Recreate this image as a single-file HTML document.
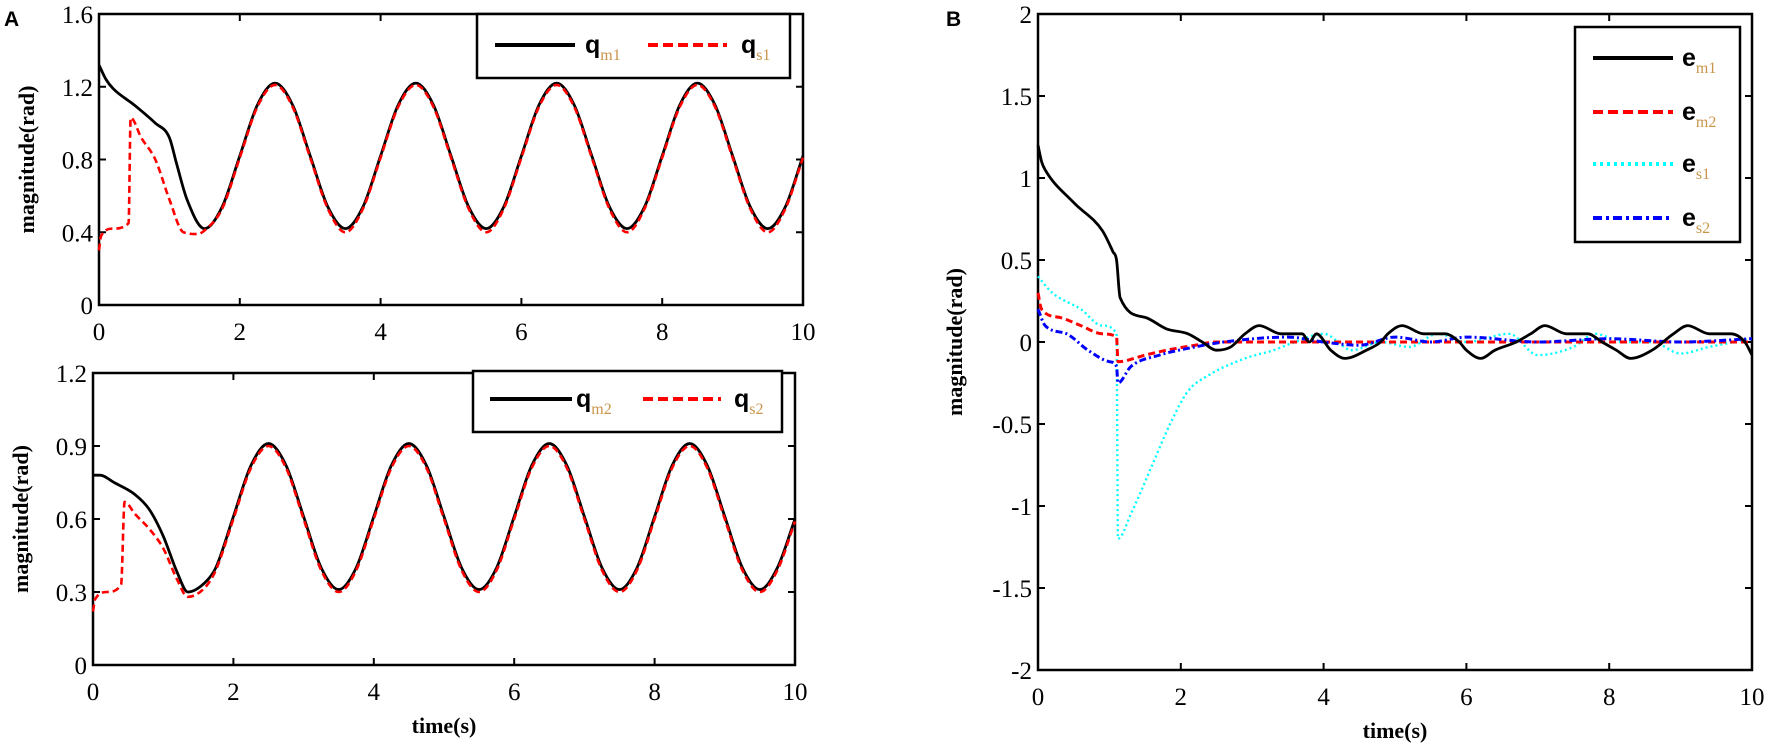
<!DOCTYPE html>
<html><head><meta charset="utf-8">
<style>
html,body{margin:0;padding:0;background:#fff;}
svg{display:block;}
text{font-family:"Liberation Serif",serif;fill:#000;}
.tick{font-size:25px;}
.lbl{font-size:22px;font-weight:bold;}
</style></head>
<body>
<svg id="fig" width="1772" height="755" viewBox="0 0 1772 755" xmlns="http://www.w3.org/2000/svg">
<text x="4" y="26" style="font-family:'Liberation Sans',sans-serif;font-weight:bold;font-size:21px">A</text>
<text x="946" y="26" style="font-family:'Liberation Sans',sans-serif;font-weight:bold;font-size:21px">B</text>
</svg>
<script>
// ---------- DATA ----------
const ticksX = [0,2,4,6,8,10];
const ticksA1 = [0,0.4,0.8,1.2,1.6];
const ticksA1Labels = ["0","0.4","0.8","1.2","1.6"];
const ticksA2 = [0,0.3,0.6,0.9,1.2];
const ticksA2Labels = ["0","0.3","0.6","0.9","1.2"];
const ticksB = [-2,-1.5,-1,-0.5,0,0.5,1,1.5,2];
const ticksBLabels = ["-2","-1.5","-1","-0.5","0","0.5","1","1.5","2"];

const qm1T = [0,0.1,0.2,0.5,0.8,1.0,1.1,1.25,1.5,1.75,2,2.25,2.5,2.75,3,3.25,3.5,3.75,4,4.25,4.5,4.75,5,5.25,5.5,5.75,6,6.25,6.5,6.75,7,7.25,7.5,7.75,8,8.25,8.5,8.75,9,9.25,9.5,9.75,10];
const qm1V = [1.32,1.24,1.19,1.1,1.0,0.92,0.78,0.58,0.42,0.54,0.82,1.10,1.22,1.10,0.82,0.54,0.42,0.54,0.82,1.10,1.22,1.10,0.82,0.54,0.42,0.54,0.82,1.10,1.22,1.10,0.82,0.54,0.42,0.54,0.82,1.10,1.22,1.10,0.82,0.54,0.42,0.54,0.82];
const qs1T = [0,0.03,0.2,0.42,0.45,0.6,0.8,1.0,1.2,1.4,1.5,1.75,2,2.25,2.5,2.75,3,3.25,3.5,3.75,4,4.25,4.5,4.75,5,5.25,5.5,5.75,6,6.25,6.5,6.75,7,7.25,7.5,7.75,8,8.25,8.5,8.75,9,9.25,9.5,9.75,10];
const qs1V = [0.30,0.38,0.42,0.45,1.03,0.92,0.8,0.58,0.40,0.39,0.41,0.53,0.81,1.09,1.21,1.09,0.81,0.53,0.40,0.53,0.81,1.09,1.21,1.09,0.81,0.53,0.40,0.53,0.81,1.09,1.21,1.09,0.81,0.53,0.40,0.53,0.81,1.09,1.21,1.09,0.81,0.53,0.40,0.53,0.81];

const qm2T = [0,0.1,0.3,0.6,0.8,1.0,1.2,1.35,1.6,1.75,2,2.25,2.5,2.75,3,3.25,3.5,3.75,4,4.25,4.5,4.75,5,5.25,5.5,5.75,6,6.25,6.5,6.75,7,7.25,7.5,7.75,8,8.25,8.5,8.75,9,9.25,9.5,9.75,10];
const qm2V = [0.78,0.78,0.75,0.70,0.64,0.53,0.38,0.30,0.34,0.40,0.61,0.82,0.91,0.82,0.61,0.40,0.31,0.40,0.61,0.82,0.91,0.82,0.61,0.40,0.31,0.40,0.61,0.82,0.91,0.82,0.61,0.40,0.31,0.40,0.61,0.82,0.91,0.82,0.61,0.40,0.31,0.40,0.60];
const qs2T = [0,0.03,0.2,0.4,0.45,0.6,0.8,1.0,1.2,1.35,1.6,1.75,2,2.25,2.5,2.75,3,3.25,3.5,3.75,4,4.25,4.5,4.75,5,5.25,5.5,5.75,6,6.25,6.5,6.75,7,7.25,7.5,7.75,8,8.25,8.5,8.75,9,9.25,9.5,9.75,10];
const qs2V = [0.22,0.27,0.30,0.33,0.67,0.62,0.56,0.48,0.35,0.28,0.32,0.39,0.60,0.81,0.90,0.81,0.60,0.39,0.30,0.39,0.60,0.81,0.90,0.81,0.60,0.39,0.30,0.39,0.60,0.81,0.90,0.81,0.60,0.39,0.30,0.39,0.60,0.81,0.90,0.81,0.60,0.39,0.30,0.39,0.59];

const em1T = [0,0.05,0.1,0.5,0.9,1.05,1.1,1.15,1.5,1.8,2.1,2.3,2.5,2.7,2.9,3.1,3.4,3.7,3.8,3.9,4.1,4.3,4.6,4.8,4.9,5.1,5.4,5.7,5.9,6.0,6.2,6.4,6.7,6.9,7.1,7.4,7.7,7.9,8.1,8.3,8.6,8.9,9.1,9.4,9.7,9.9,10];
const em1V = [1.2,1.1,1.05,0.85,0.68,0.55,0.5,0.27,0.15,0.08,0.05,0.0,-0.05,-0.03,0.05,0.1,0.05,0.05,0.0,0.05,-0.05,-0.1,-0.05,0.0,0.05,0.1,0.05,0.05,0.0,-0.05,-0.1,-0.05,0.0,0.05,0.1,0.05,0.05,0.0,-0.05,-0.1,-0.05,0.05,0.1,0.05,0.05,0.0,-0.08];
const em2T = [0,0.05,0.3,0.6,0.9,1.1,1.12,1.5,1.8,2.2,2.5,4,5,6,7,8,9,10];
const em2V = [0.3,0.2,0.15,0.1,0.05,0.03,-0.12,-0.08,-0.05,-0.02,0,0,0,0,0,0,0,0];
const es1T = [0,0.2,0.6,0.9,1.1,1.12,1.3,1.6,1.85,2.1,2.4,2.9,3.3,3.6,4.0,4.4,4.8,5.2,5.6,6.0,6.6,7.0,7.5,7.8,8.2,8.6,9.0,9.4,10];
const es1V = [0.4,0.3,0.2,0.1,0.05,-1.2,-1.05,-0.75,-0.5,-0.3,-0.2,-0.1,-0.05,0,0.05,-0.05,0,-0.03,0.05,0,0.05,-0.08,-0.03,0.05,0,0,-0.07,-0.03,0.02];
const es2T = [0,0.1,0.4,0.7,1.0,1.1,1.12,1.3,1.7,2.2,2.6,3.5,4,4.5,5,5.5,6,7,8,9,10];
const es2V = [0.2,0.1,0.05,-0.05,-0.12,-0.15,-0.25,-0.15,-0.08,-0.03,0,0.03,0,-0.02,0.03,0,0.03,0,0.02,0,0.02];

// ---------- DRAWING ----------
const NS = "http://www.w3.org/2000/svg";
const svg = document.getElementById('fig');
function mk(tag, attrs, parent){
  const e = document.createElementNS(NS, tag);
  for (const k in attrs) e.setAttribute(k, attrs[k]);
  (parent||svg).appendChild(e);
  return e;
}
function monoPath(xs, ys){
  const n = xs.length;
  if (n<2) return "";
  const d=[], m=[];
  for(let i=0;i<n-1;i++) d.push((ys[i+1]-ys[i])/(xs[i+1]-xs[i]));
  m[0]=d[0]; m[n-1]=d[n-2];
  for(let i=1;i<n-1;i++){ m[i] = (d[i-1]*d[i]<=0)?0:(d[i-1]+d[i])/2; }
  for(let i=0;i<n-1;i++){
    if(d[i]===0){m[i]=0;m[i+1]=0;continue;}
    const a=m[i]/d[i], b=m[i+1]/d[i], s=a*a+b*b;
    if(s>9){const t=3/Math.sqrt(s); m[i]=t*a*d[i]; m[i+1]=t*b*d[i];}
  }
  let p = "M"+xs[0].toFixed(2)+","+ys[0].toFixed(2);
  for(let i=0;i<n-1;i++){
    const h=(xs[i+1]-xs[i])/3;
    p += " C"+(xs[i]+h).toFixed(2)+","+(ys[i]+m[i]*h).toFixed(2)+" "+(xs[i+1]-h).toFixed(2)+","+(ys[i+1]-m[i+1]*h).toFixed(2)+" "+xs[i+1].toFixed(2)+","+ys[i+1].toFixed(2);
  }
  return p;
}
function axes(cfg){
  const g = mk('g', {});
  
  
  const sx = v => cfg.x0 + (v - 0)/(10-0)*(cfg.x1-cfg.x0);
  const sy = v => cfg.yb + (v - cfg.ymin)/(cfg.ymax-cfg.ymin)*(cfg.yt-cfg.yb);
  const frame = mk('rect', {x:cfg.x0, y:cfg.yt, width:cfg.x1-cfg.x0, height:cfg.yb-cfg.yt, fill:'none', stroke:'#000', 'stroke-width':2.5}, g);
  
  
  ticksX.forEach(t=>{
    const x=sx(t);
    mk('line',{x1:x,x2:x,y1:cfg.yb,y2:cfg.yb-7,stroke:'#000','stroke-width':2},g);
    mk('line',{x1:x,x2:x,y1:cfg.yt,y2:cfg.yt+7,stroke:'#000','stroke-width':2},g);
    const tx = mk('text',{x:x,y:cfg.yb+35,'text-anchor':'middle','class':'tick'},g);
    tx.textContent = String(t);
    
    
  });
  cfg.yticks.forEach((t,i)=>{
    const y=sy(t);
    mk('line',{x1:cfg.x0,x2:cfg.x0+7,y1:y,y2:y,stroke:'#000','stroke-width':2},g);
    mk('line',{x1:cfg.x1,x2:cfg.x1-7,y1:y,y2:y,stroke:'#000','stroke-width':2},g);
    const ty = mk('text',{x:cfg.x0-6,y:y+9,'text-anchor':'end','class':'tick'},g);
    ty.textContent = cfg.ylabels[i];
    
    
  });
  const yl = mk('text',{x:0,y:0,'text-anchor':'middle','class':'lbl',transform:'translate('+cfg.ylx+','+((cfg.yt+cfg.yb)/2)+') rotate(-90)'},g);
  yl.textContent = cfg.ytitle;
  
  
  if (cfg.xtitle){
    const xl = mk('text',{x:(cfg.x0+cfg.x1)/2,y:cfg.xty,'text-anchor':'middle','class':'lbl'},g);
    xl.textContent = cfg.xtitle;
    
    
  }
  return {g,sx,sy};
}
function series(ax, T, V, style, name){
  const xs = T.map(ax.sx), ys = V.map(ax.sy);
  const p = mk('path', Object.assign({d:monoPath(xs,ys), fill:'none','stroke-linejoin':'round'}, style), ax.g);
  
  
}
function legend(ax, box, items){
  const g = mk('g', {}, ax.g);
  
  
  mk('rect',{x:box.x,y:box.y,width:box.w,height:box.h,fill:'#fff',stroke:'#000','stroke-width':2.5},g);
  items.forEach(it=>{
    const e = mk('g',{},g);
    
    
    mk('line',Object.assign({x1:it.x1,x2:it.x2,y1:it.y,y2:it.y},it.style),e);
    const t = mk('text',{x:it.tx,y:it.y+8,style:'font-size:25px;font-weight:bold;font-family:"Liberation Sans",sans-serif'},e);
    const main = mk('tspan',{},t); main.textContent = it.main;
    const sub = mk('tspan',{dy:7,style:'font-size:16px;font-weight:normal;fill:#c9954a;font-family:"Liberation Serif",serif'},t); sub.textContent = it.sub;
  });
}
const solid = {stroke:'#000','stroke-width':2.8};
const red = {stroke:'#f00','stroke-width':2.6,'stroke-dasharray':'7,4'};

const A1 = axes({name:'chart-a-top',x0:99,x1:803,yt:14,yb:305,ymin:0,ymax:1.6,yticks:ticksA1,ylabels:ticksA1Labels,ytitle:'magnitude(rad)',ylx:34});
series(A1, qm1T, qm1V, solid, 'line-qm1');
series(A1, qs1T, qs1V, red, 'line-qs1');
legend(A1, {x:477,y:14,w:313,h:64}, [
  {x1:495,x2:575,y:45,tx:585,main:'q',sub:'m1',style:{stroke:'#000','stroke-width':4}},
  {x1:648,x2:727,y:45,tx:741,main:'q',sub:'s1',style:{stroke:'#f00','stroke-width':4,'stroke-dasharray':'10,5'}}
]);

const A2 = axes({name:'chart-a-bottom',x0:93,x1:795,yt:373,yb:665,ymin:0,ymax:1.2,yticks:ticksA2,ylabels:ticksA2Labels,ytitle:'magnitude(rad)',ylx:28,xtitle:'time(s)',xty:733});
series(A2, qm2T, qm2V, solid, 'line-qm2');
series(A2, qs2T, qs2V, red, 'line-qs2');
legend(A2, {x:473,y:371,w:309,h:61}, [
  {x1:490,x2:572,y:399,tx:576,main:'q',sub:'m2',style:{stroke:'#000','stroke-width':4}},
  {x1:643,x2:721,y:399,tx:734,main:'q',sub:'s2',style:{stroke:'#f00','stroke-width':4,'stroke-dasharray':'10,5'}}
]);

const B = axes({name:'chart-b',x0:1038,x1:1752,yt:14,yb:670,ymin:-2,ymax:2,yticks:ticksB,ylabels:ticksBLabels,ytitle:'magnitude(rad)',ylx:962,xtitle:'time(s)',xty:738});
series(B, es1T, es1V, {stroke:'#0ff','stroke-width':2.4,'stroke-dasharray':'2,3'}, 'line-es1');
series(B, em2T, em2V, {stroke:'#f00','stroke-width':3,'stroke-dasharray':'7,4'}, 'line-em2');
series(B, es2T, es2V, {stroke:'#00f','stroke-width':3,'stroke-dasharray':'7,3,2,3'}, 'line-es2');
series(B, em1T, em1V, solid, 'line-em1');
legend(B, {x:1575,y:27,w:165,h:215}, [
  {x1:1593,x2:1673,y:58,tx:1682,main:'e',sub:'m1',style:{stroke:'#000','stroke-width':4}},
  {x1:1593,x2:1673,y:112,tx:1682,main:'e',sub:'m2',style:{stroke:'#f00','stroke-width':4,'stroke-dasharray':'10,5'}},
  {x1:1593,x2:1673,y:164,tx:1682,main:'e',sub:'s1',style:{stroke:'#0ff','stroke-width':4,'stroke-dasharray':'3,4'}},
  {x1:1593,x2:1673,y:218,tx:1682,main:'e',sub:'s2',style:{stroke:'#00f','stroke-width':4,'stroke-dasharray':'9,4,3,4'}}
]);
</script>
</body></html>
